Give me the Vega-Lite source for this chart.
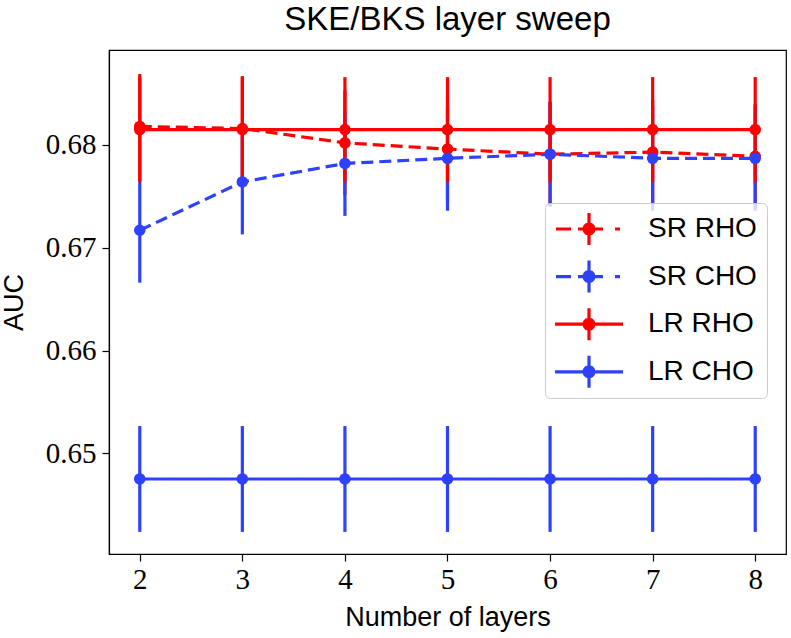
{
  "$schema": "https://vega.github.io/schema/vega-lite/v6.json",
  "autosize": "none",
  "width": 677,
  "height": 504,
  "padding": {"left": 109, "top": 50, "right": 5, "bottom": 84},
  "background": "white",
  "title": {
    "text": "SKE/BKS layer sweep",
    "font": "Liberation Sans",
    "fontSize": 33,
    "fontWeight": "normal",
    "color": "black",
    "anchor": "middle",
    "frame": "group",
    "baseline": "bottom",
    "offset": 11,
    "dy": 31
  },
  "config": {
    "view": {"stroke": "black", "strokeWidth": 1.2},
    "axis": {
      "grid": false,
      "domainColor": "black",
      "domainWidth": 1.2,
      "tickColor": "black",
      "tickWidth": 1.2,
      "tickSize": 7,
      "labelColor": "black",
      "labelFont": "Liberation Serif",
      "labelFontSize": 29,
      "titleColor": "black",
      "titleFont": "Liberation Sans",
      "titleFontSize": 27,
      "titleFontWeight": "normal"
    }
  },
  "data": {
    "values": [
      {"series": "SR RHO", "layers": 2, "auc": 0.6818, "lo": 0.6767, "hi": 0.6869},
      {"series": "SR RHO", "layers": 3, "auc": 0.6816, "lo": 0.6765, "hi": 0.6867},
      {"series": "SR RHO", "layers": 4, "auc": 0.6802, "lo": 0.6751, "hi": 0.6853},
      {"series": "SR RHO", "layers": 5, "auc": 0.6796, "lo": 0.6745, "hi": 0.6847},
      {"series": "SR RHO", "layers": 6, "auc": 0.6791, "lo": 0.6740, "hi": 0.6842},
      {"series": "SR RHO", "layers": 7, "auc": 0.6793, "lo": 0.6742, "hi": 0.6844},
      {"series": "SR RHO", "layers": 8, "auc": 0.6789, "lo": 0.6738, "hi": 0.6840},
      {"series": "SR CHO", "layers": 2, "auc": 0.6717, "lo": 0.6666, "hi": 0.6768},
      {"series": "SR CHO", "layers": 3, "auc": 0.6764, "lo": 0.6713, "hi": 0.6815},
      {"series": "SR CHO", "layers": 4, "auc": 0.6782, "lo": 0.6731, "hi": 0.6833},
      {"series": "SR CHO", "layers": 5, "auc": 0.6787, "lo": 0.6736, "hi": 0.6838},
      {"series": "SR CHO", "layers": 6, "auc": 0.6791, "lo": 0.6740, "hi": 0.6842},
      {"series": "SR CHO", "layers": 7, "auc": 0.6787, "lo": 0.6736, "hi": 0.6838},
      {"series": "SR CHO", "layers": 8, "auc": 0.6787, "lo": 0.6736, "hi": 0.6838},
      {"series": "LR RHO", "layers": 2, "auc": 0.6815, "lo": 0.6764, "hi": 0.6866},
      {"series": "LR RHO", "layers": 3, "auc": 0.6815, "lo": 0.6764, "hi": 0.6866},
      {"series": "LR RHO", "layers": 4, "auc": 0.6815, "lo": 0.6764, "hi": 0.6866},
      {"series": "LR RHO", "layers": 5, "auc": 0.6815, "lo": 0.6764, "hi": 0.6866},
      {"series": "LR RHO", "layers": 6, "auc": 0.6815, "lo": 0.6764, "hi": 0.6866},
      {"series": "LR RHO", "layers": 7, "auc": 0.6815, "lo": 0.6764, "hi": 0.6866},
      {"series": "LR RHO", "layers": 8, "auc": 0.6815, "lo": 0.6764, "hi": 0.6866},
      {"series": "LR CHO", "layers": 2, "auc": 0.6475, "lo": 0.64235, "hi": 0.65265},
      {"series": "LR CHO", "layers": 3, "auc": 0.6475, "lo": 0.64235, "hi": 0.65265},
      {"series": "LR CHO", "layers": 4, "auc": 0.6475, "lo": 0.64235, "hi": 0.65265},
      {"series": "LR CHO", "layers": 5, "auc": 0.6475, "lo": 0.64235, "hi": 0.65265},
      {"series": "LR CHO", "layers": 6, "auc": 0.6475, "lo": 0.64235, "hi": 0.65265},
      {"series": "LR CHO", "layers": 7, "auc": 0.6475, "lo": 0.64235, "hi": 0.65265},
      {"series": "LR CHO", "layers": 8, "auc": 0.6475, "lo": 0.64235, "hi": 0.65265}
    ]
  },
  "encoding": {
    "x": {
      "field": "layers",
      "type": "quantitative",
      "scale": {"domain": [1.7, 8.3], "nice": false, "zero": false},
      "axis": {"values": [2, 3, 4, 5, 6, 7, 8], "title": "Number of layers", "labelPadding": 4, "titlePadding": 10, "labelFlush": false}
    },
    "color": {
      "field": "series",
      "type": "nominal",
      "scale": {"domain": ["SR RHO", "SR CHO", "LR RHO", "LR CHO"], "range": ["#ff0000", "#2d41ff", "#ff0000", "#2d41ff"]},
      "legend": {
        "orient": "none",
        "legendX": 436,
        "legendY": 153,
        "title": null,
        "direction": "vertical",
        "symbolSize": 1024,
        "symbolStrokeWidth": 0,
        "symbolOffset": 18,
        "labelOffset": 43,
        "rowPadding": 15.6,
        "padding": 10,
        "cornerRadius": 5,
        "strokeColor": "#cccccc",
        "fillColor": "rgba(255,255,255,0.8)",
        "labelFont": "Liberation Sans",
        "labelFontSize": 28,
        "labelColor": "black",
        "encode": {
          "symbols": {
            "update": {
              "shape": [
                {"test": "indexof(datum.value, 'SR') === 0", "value": "M-2.0625,-0.1H-1.125V0.1H-2.0625Z M-0.6875,-0.1H0.875V0.1H-0.6875Z M1.625,-0.1H1.9375V0.1H1.625Z M-0.1,-1H0.1V1H-0.1Z M0.406,0A0.406,0.406,0,1,1,-0.406,0A0.406,0.406,0,1,1,0.406,0Z"},
                {"value": "M-2.125,-0.1H2.125V0.1H-2.125Z M-0.1,-1H0.1V1H-0.1Z M0.406,0A0.406,0.406,0,1,1,-0.406,0A0.406,0.406,0,1,1,0.406,0Z"}
              ],
              "fill": [
                {"test": "indexof(datum.value, 'RHO') >= 0", "value": "#ff0000"},
                {"value": "#2d41ff"}
              ],
              "stroke": {"value": "transparent"},
              "strokeDash": {"value": [1, 0]},
              "opacity": {"value": 1},
              "fillOpacity": {"value": 1}
            }
          }
        }
      }
    }
  },
  "layer": [
    {
      "mark": {"type": "rule", "strokeWidth": 3.2},
      "encoding": {
        "y": {"field": "lo", "type": "quantitative"},
        "y2": {"field": "hi"}
      }
    },
    {
      "mark": {"type": "line", "strokeWidth": 3.2},
      "encoding": {
        "y": {"field": "auc", "type": "quantitative"},
        "strokeDash": {
          "field": "series",
          "type": "nominal",
          "scale": {"domain": ["SR RHO", "SR CHO", "LR RHO", "LR CHO"], "range": [[12, 6], [12, 6], [1, 0], [1, 0]]},
          "legend": null
        }
      }
    },
    {
      "mark": {"type": "point", "filled": true, "opacity": 1, "size": 135, "shape": "circle"},
      "encoding": {
        "y": {
          "field": "auc",
          "type": "quantitative",
          "scale": {"domain": [0.6402, 0.68924], "nice": false, "zero": false},
          "axis": {"values": [0.65, 0.66, 0.67, 0.68], "format": ".2f", "title": "AUC", "labelPadding": 6, "titlePadding": 17}
        }
      }
    }
  ],
  "resolve": {"scale": {"y": "shared"}}
}
